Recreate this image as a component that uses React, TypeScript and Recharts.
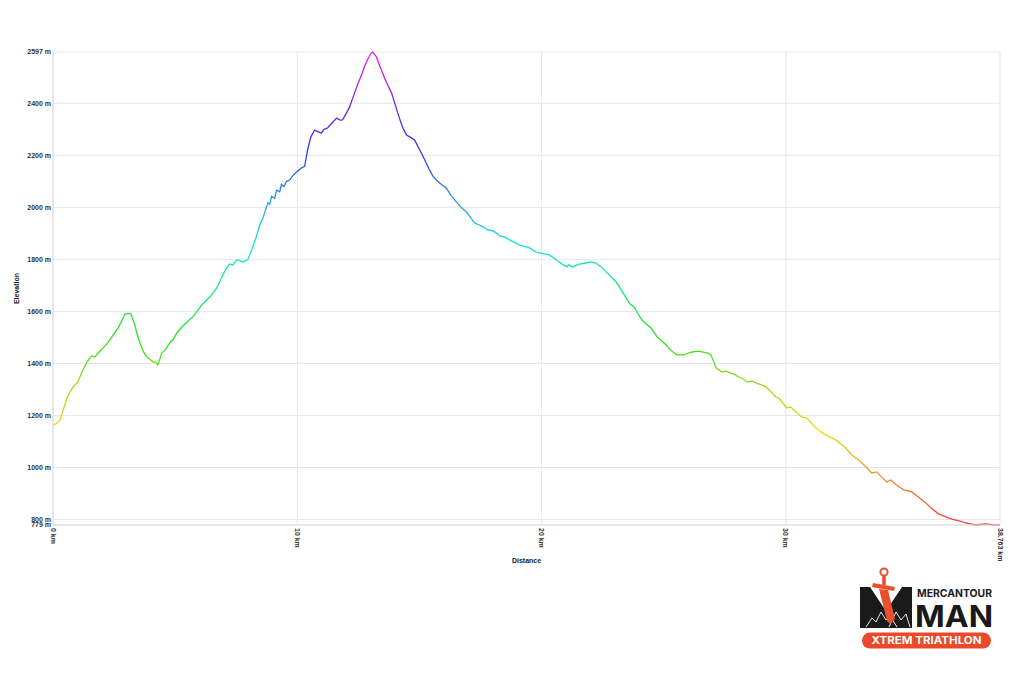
import React from "react";
import {
  LineChart,
  Line,
  XAxis,
  YAxis,
  CartesianGrid,
  Label,
} from "recharts";

// distance along the course (km) and elevation (m)
const distanceKm = [
  0, 0.15, 0.29, 0.45, 0.57, 0.7, 0.82, 1.02, 1.2, 1.39, 1.59, 1.72, 1.85, 2.04,
  2.25, 2.41, 2.66, 2.8, 2.94, 3.1, 3.19, 3.35, 3.45, 3.56, 3.7, 3.84, 4.09, 4.2,
  4.29, 4.4, 4.45, 4.6, 4.78, 4.9, 5.07, 5.27, 5.5, 5.72, 5.9, 6.09, 6.25, 6.42,
  6.55, 6.7, 6.95, 7.1, 7.23, 7.36, 7.52, 7.65, 7.77, 7.97, 8.13, 8.3, 8.46, 8.6,
  8.7, 8.8, 8.87, 8.95, 9.07, 9.15, 9.28, 9.35, 9.45, 9.56, 9.69, 9.8, 9.97,
  10.15, 10.3, 10.42, 10.55, 10.71, 10.85, 10.99, 11.1, 11.24, 11.4, 11.61,
  11.75, 11.85, 12.0, 12.14, 12.34, 12.5, 12.63, 12.75, 12.87, 13.0, 13.08,
  13.24, 13.35, 13.49, 13.65, 13.86, 14.1, 14.3, 14.47, 14.65, 14.8, 15.12,
  15.41, 15.55, 15.69, 15.9, 16.1, 16.3, 16.51, 16.7, 16.92, 17.1, 17.25, 17.45,
  17.6, 17.78, 18.0, 18.15, 18.3, 18.48, 18.68, 18.9, 19.09, 19.3, 19.5, 19.78,
  20.05, 20.31, 20.5, 20.72, 20.9, 21.05, 21.1, 21.25, 21.54, 21.8, 22.03,
  22.23, 22.45, 22.64, 22.85, 23.05, 23.15, 23.26, 23.46, 23.6, 23.79, 23.95,
  24.11, 24.3, 24.48, 24.73, 24.9, 25.1, 25.3, 25.54, 25.83, 26.0, 26.16, 26.4,
  26.57, 26.8, 26.93, 27.05, 27.14, 27.38, 27.55, 27.75, 27.9, 28.08, 28.25,
  28.41, 28.6, 28.77, 29.0, 29.18, 29.4, 29.59, 29.71, 29.9, 30.04, 30.2, 30.33,
  30.5, 30.65, 30.86, 31.05, 31.23, 31.45, 31.63, 31.85, 32.04, 32.25, 32.45,
  32.7, 32.9, 33.07, 33.3, 33.51, 33.72, 33.9, 34.13, 34.29, 34.5, 34.82, 35.0,
  35.15, 35.45, 35.72, 36.0, 36.25, 36.5, 36.78, 37.1, 37.36, 37.6, 37.76,
  37.95, 38.17, 38.45, 38.763,
];

const elevationM = [
  1163, 1170, 1183, 1230, 1267, 1290, 1310, 1329, 1370, 1406, 1429, 1425, 1440,
  1459, 1480, 1502, 1536, 1560, 1590, 1592, 1590, 1548, 1510, 1479, 1445, 1425,
  1406, 1405, 1394, 1425, 1440, 1452, 1479, 1490, 1517, 1540, 1560, 1579, 1600,
  1625, 1640, 1655, 1670, 1690, 1740, 1765, 1782, 1778, 1798, 1795, 1790, 1798,
  1836, 1880, 1932, 1960, 1990, 2018, 2012, 2042, 2034, 2066, 2060, 2088, 2080,
  2100, 2105, 2120, 2136, 2150, 2158, 2220, 2270, 2297, 2290, 2286, 2300, 2305,
  2322, 2343, 2335, 2336, 2360, 2386, 2439, 2480, 2509, 2540, 2566, 2590, 2597,
  2578, 2550, 2516, 2480, 2439, 2366, 2310, 2278, 2268, 2259, 2201, 2144, 2120,
  2105, 2088, 2074, 2045, 2021, 2000, 1982, 1960, 1940, 1932, 1925, 1913, 1910,
  1901, 1890, 1886, 1875, 1865, 1855, 1850, 1844, 1828, 1822, 1817, 1805, 1790,
  1778, 1771, 1780, 1771, 1782, 1786, 1790, 1786, 1770, 1752, 1733, 1713, 1700,
  1682, 1652, 1630, 1617, 1590, 1567, 1550, 1536, 1502, 1488, 1471, 1450, 1433,
  1433, 1440, 1444, 1447, 1444, 1440, 1433, 1405, 1383, 1367, 1370, 1363, 1358,
  1348, 1340, 1329, 1332, 1325, 1318, 1310, 1290, 1271, 1267, 1245, 1229, 1232,
  1221, 1206, 1194, 1190, 1170, 1152, 1136, 1125, 1115, 1106, 1090, 1075, 1048,
  1035, 1021, 1000, 979, 983, 965, 944, 952, 935, 914, 910, 906, 885, 864, 840,
  822, 812, 802, 795, 787, 782, 779, 781, 783, 780, 779,
];

const xTicks = [0, 10, 20, 30, 38.763];
const yTicks = [779, 800, 1000, 1200, 1400, 1600, 1800, 2000, 2200, 2400, 2597];

// elevation colour ramp, top (max) to bottom (min)
const rampStops = [
  "hsl(300,80%,52%)",
  "hsl(270,80%,52%)",
  "hsl(240,80%,55%)",
  "hsl(210,85%,55%)",
  "hsl(182,80%,50%)",
  "hsl(150,80%,50%)",
  "hsl(118,80%,50%)",
  "hsl(85,80%,48%)",
  "hsl(58,80%,50%)",
  "hsl(30,85%,55%)",
  "hsl(2,85%,58%)",
];

const data = distanceKm.map((d, i) => ({ d, e: elevationM[i] }));

const tickFont = {
  fontFamily: "'Liberation Sans', Arial, sans-serif",
  fontSize: 7,
  fontWeight: 700,
  fill: "#333333",
};

function DistanceTick(props: any) {
  const { x, y, payload } = props;
  return (
    <g transform={`translate(${x},${y}) rotate(90)`}>
      <text x={0} y={0} dy="0.35em" textAnchor="start" stroke="none" {...tickFont}>
        {`${payload.value} km`}
      </text>
    </g>
  );
}

function ElevationTick(props: any) {
  const { x, y, payload } = props;
  return (
    <text x={x} y={y} dy="0.35em" textAnchor="end" stroke="none" {...tickFont}>
      {`${payload.value} m`}
    </text>
  );
}

function Logo() {
  return (
    <svg
      width={150}
      height={95}
      viewBox="850 560 150 95"
      style={{ position: "absolute", left: 850, top: 560 }}
    >
      {/* M block */}
      <polygon
        points="860,587 870,587 886,611 902,587 912,587 912,628 860,628"
        fill="#1a1a1a"
      />
      <polyline
        points="866,627 872,618 876,622 881,612 886,620 890,616 897,627"
        fill="none"
        stroke="#fff"
        strokeWidth={0.9}
      />
      <polyline
        points="889,627 896,612 901,620 906,614 910,627"
        fill="none"
        stroke="#fff"
        strokeWidth={0.9}
      />
      {/* sword */}
      <circle cx={884} cy={572} r={3.6} fill="#fff" stroke="#e8502e" strokeWidth={2} />
      <rect x={882.2} y={576} width={3.6} height={9} fill="#e8502e" />
      <polygon points="873,583 895,587 894,591 872,587" fill="#e8502e" />
      <polygon points="879,589 888,590 895,619 890,624 887,621" fill="#e8502e" />
      {/* wordmark */}
      <text
        x={917}
        y={596.5}
        textLength={75}
        lengthAdjust="spacingAndGlyphs"
        fontFamily="Inter, 'DejaVu Sans', sans-serif"
        fontWeight={700}
        fontSize={10.5}
        fill="#1a1a1a"
      >
        MERCANTOUR
      </text>
      <text
        x={915}
        y={627}
        textLength={78}
        lengthAdjust="spacingAndGlyphs"
        fontFamily="Inter, 'DejaVu Sans', sans-serif"
        fontWeight={700}
        fontSize={30}
        fill="#1a1a1a"
      >
        MAN
      </text>
      <rect x={862} y={632.5} width={129} height={16} rx={8} fill="#e84a2a" />
      <text
        x={926.5}
        y={644}
        textAnchor="middle"
        textLength={110}
        lengthAdjust="spacingAndGlyphs"
        fontFamily="Inter, 'DejaVu Sans', sans-serif"
        fontWeight={700}
        fontSize={10}
        fill="#fff"
      >
        XTREM TRIATHLON
      </text>
    </svg>
  );
}

export default function App() {
  return (
    <div
      style={{
        position: "absolute",
        left: 0,
        top: 0,
        width: 1024,
        height: 676,
        background: "#fff",
      }}
    >
      <LineChart
        width={1024}
        height={676}
        data={data}
        margin={{ top: 52, right: 24, bottom: 111, left: 0 }}
      >
        <defs>
          <linearGradient id="elevRamp" x1="0" y1="0" x2="0" y2="1">
            {rampStops.map((c, i) => (
              <stop key={i} offset={i / (rampStops.length - 1)} stopColor={c} />
            ))}
          </linearGradient>
        </defs>
        <CartesianGrid stroke="#e6e6e6" strokeWidth={1} />
        <XAxis
          dataKey="d"
          type="number"
          domain={[0, 38.763]}
          ticks={xTicks}
          interval={0}
          height={40}
          tickSize={0}
          tickMargin={3}
          axisLine={{ stroke: "#dcdcdc" }}
          tickLine={false}
          tick={<DistanceTick />}
        >
          <Label
            value="Distance"
            position="insideBottom"
            offset={2}
            style={{ ...tickFont, fill: "#222222" }}
          />
        </XAxis>
        <YAxis
          type="number"
          domain={[779, 2597]}
          ticks={yTicks}
          interval={0}
          width={53}
          tickSize={0}
          tickMargin={2}
          axisLine={{ stroke: "#dcdcdc" }}
          tickLine={false}
          tick={<ElevationTick />}
        >
          <Label
            value="Elevation"
            angle={-90}
            position="insideLeft"
            offset={17}
            style={{ ...tickFont, fill: "#222222", textAnchor: "middle" }}
          />
        </YAxis>
        <Line
          type="linear"
          dataKey="e"
          stroke="url(#elevRamp)"
          strokeWidth={1.3}
          dot={false}
          activeDot={false}
          isAnimationActive={false}
        />
      </LineChart>
      <Logo />
    </div>
  );
}
